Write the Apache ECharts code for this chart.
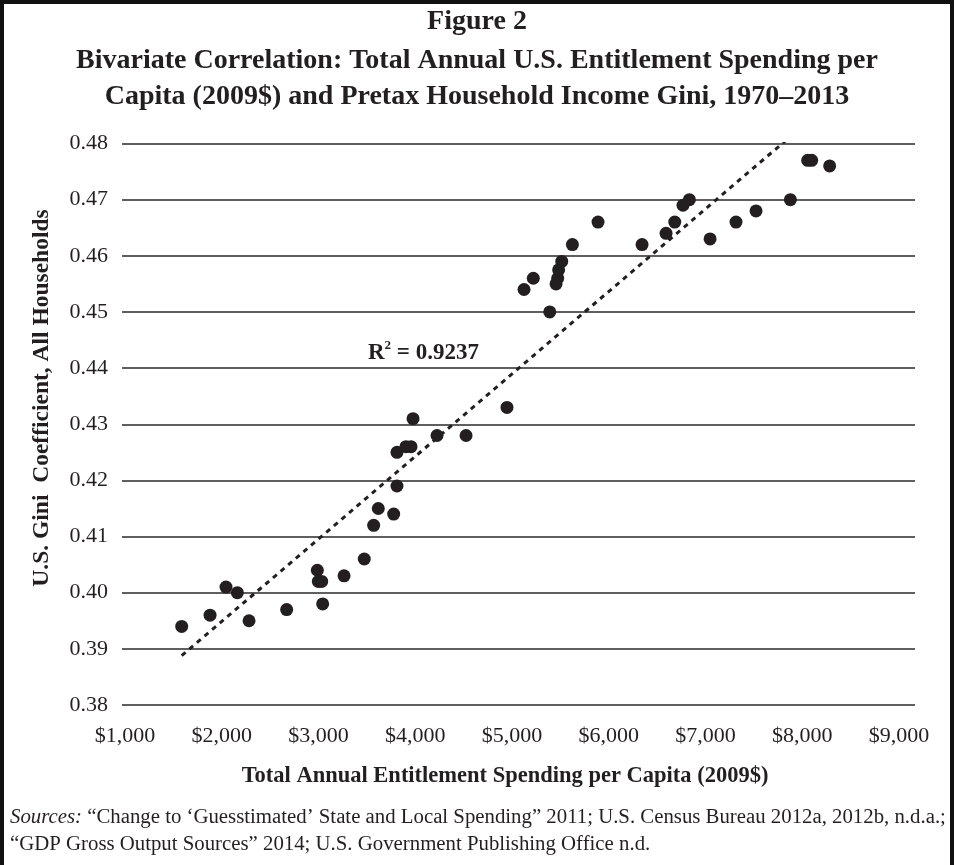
<!DOCTYPE html>
<html>
<head>
<meta charset="utf-8">
<script src="https://cdn.jsdelivr.net/npm/echarts@6/dist/echarts.min.js"></script>
<style>
  html, body { margin: 0; padding: 0; background: #ffffff; }
  #chart { width: 954px; height: 865px; }
</style>
</head>
<body>
<div id="chart"></div>
<script>
// Total annual entitlement spending per capita (2009$), one value per year
const spending = [
  1586, 1879, 2044, 2161, 2282, 2671, 3043, 2988, 2998, 3033,
  3264, 3473, 3570, 3618, 3777, 3811, 3811, 3904, 3956, 3977,
  4225, 4525, 4948, 5390, 5124, 5220, 5455, 5472, 5482, 5514,
  5624, 5889, 6344, 6592, 6682, 6767, 6833, 7047, 7315, 7522,
  7877, 8056, 8097, 8283
];
// Pretax household income Gini coefficient, same order as spending
const gini = [
  0.394, 0.396, 0.401, 0.400, 0.395, 0.397, 0.398, 0.404, 0.402, 0.402,
  0.403, 0.406, 0.412, 0.415, 0.414, 0.419, 0.425, 0.426, 0.426, 0.431,
  0.428, 0.428, 0.433, 0.450, 0.454, 0.456, 0.455, 0.456, 0.4575, 0.459,
  0.462, 0.466, 0.462, 0.464, 0.466, 0.469, 0.470, 0.463, 0.466, 0.468,
  0.470, 0.477, 0.477, 0.476
];
const xTicks = [1000, 2000, 3000, 4000, 5000, 6000, 7000, 8000, 9000];
const rSquaredText = '0.9237';

const titleLines = [
  'Figure 2',
  'Bivariate Correlation: Total Annual U.S. Entitlement Spending per',
  'Capita (2009$) and Pretax Household Income Gini, 1970\u20132013'
];
const xTitle = 'Total Annual Entitlement Spending per Capita (2009$)';
const yTitle = 'U.S. Gini  Coefficient, All Households';
const sourceLines = [
  '{i|Sources:} \u201cChange to \u2018Guesstimated\u2019 State and Local Spending\u201d 2011; U.S. Census Bureau 2012a, 2012b, n.d.a.;',
  '\u201cGDP Gross Output Sources\u201d 2014; U.S. Government Publishing Office n.d.'
];

const INK = '#231f20';
const SERIF = '"Liberation Serif", "DejaVu Serif", serif';

const points = spending.map((x, i) => [x, gini[i]]);

// Ordinary least-squares trend line across the spending range
const n = points.length;
const mx = spending.reduce((a, b) => a + b, 0) / n;
const my = gini.reduce((a, b) => a + b, 0) / n;
let sxy = 0, sxx = 0;
for (let i = 0; i < n; i++) {
  sxy += (spending[i] - mx) * (gini[i] - my);
  sxx += (spending[i] - mx) * (spending[i] - mx);
}
const slope = sxy / sxx;
const intercept = my - slope * mx;
const xLo = Math.min(...spending), xHi = Math.max(...spending);
const trend = [[xLo, intercept + slope * xLo], [xHi, intercept + slope * xHi]];

const chart = echarts.init(document.getElementById('chart'), null, { renderer: 'canvas' });

const fmtDollar = v => '$' + Math.round(v).toLocaleString('en-US');

chart.setOption({
  backgroundColor: '#ffffff',
  animation: false,
  grid: { left: 122, right: 39, top: 143.5, bottom: 160 },
  xAxis: {
    type: 'value',
    min: 969,
    max: 9165,
    axisLine: { show: false },
    axisTick: { show: false },
    splitLine: { show: false },
    axisLabel: {
      customValues: xTicks,
      formatter: fmtDollar,
      margin: 20,
      fontFamily: SERIF,
      fontSize: 22,
      color: INK
    }
  },
  yAxis: {
    type: 'value',
    min: 0.38,
    max: 0.48,
    interval: 0.01,
    axisLine: { show: false },
    axisTick: { show: false },
    splitLine: { show: true, lineStyle: { color: '#2a2a2a', width: 1.5 } },
    axisLabel: {
      formatter: v => v.toFixed(2),
      margin: 14,
      fontFamily: SERIF,
      fontSize: 22,
      color: INK
    }
  },
  series: [
    {
      type: 'scatter',
      data: points,
      symbol: 'circle',
      symbolSize: 13,
      itemStyle: { color: INK, opacity: 1 },
      z: 3
    },
    {
      type: 'line',
      data: trend,
      showSymbol: false,
      symbol: 'none',
      clip: true,
      lineStyle: { color: INK, width: 3, type: [5, 5] },
      z: 2
    }
  ],
  graphic: [
    {
      type: 'rect',
      shape: { x: 2, y: 2, width: 950, height: 880 },
      style: { fill: 'none', stroke: '#111111', lineWidth: 4 },
      silent: true
    },
    ...titleLines.map((t, i) => ({
      type: 'text',
      x: 477,
      y: [22, 61, 97][i],
      style: {
        text: t,
        textAlign: 'center',
        textVerticalAlign: 'middle',
        fontFamily: SERIF,
        fontWeight: 'bold',
        fontSize: 28,
        fill: INK
      }
    })),
    {
      type: 'text',
      x: 505,
      y: 776,
      style: {
        text: xTitle,
        textAlign: 'center',
        textVerticalAlign: 'middle',
        fontFamily: SERIF,
        fontWeight: 'bold',
        fontSize: 22.5,
        fill: INK
      }
    },
    {
      type: 'text',
      x: 42,
      y: 398,
      rotation: Math.PI / 2,
      style: {
        text: yTitle,
        textAlign: 'center',
        textVerticalAlign: 'middle',
        fontFamily: SERIF,
        fontWeight: 'bold',
        fontSize: 23.5,
        fill: INK
      }
    },
    {
      type: 'text',
      x: 368,
      y: 352,
      style: {
        text: '{r|R}{s|2}{r| = ' + rSquaredText + '}',
        textVerticalAlign: 'middle',
        rich: {
          r: { fontFamily: SERIF, fontWeight: 'bold', fontSize: 23, fill: INK, verticalAlign: 'bottom', lineHeight: 26 },
          s: { fontFamily: SERIF, fontWeight: 'bold', fontSize: 13, fill: INK, verticalAlign: 'top', lineHeight: 26 }
        }
      }
    },
    ...sourceLines.map((t, i) => ({
      type: 'text',
      x: 10,
      y: [818, 845][i],
      style: {
        text: t,
        textVerticalAlign: 'middle',
        fontFamily: SERIF,
        fontSize: 20.8,
        fill: INK,
        rich: {
          i: { fontFamily: SERIF, fontSize: 20.8, fontStyle: 'italic', fill: INK }
        }
      }
    }))
  ]
});
</script>
</body>
</html>
